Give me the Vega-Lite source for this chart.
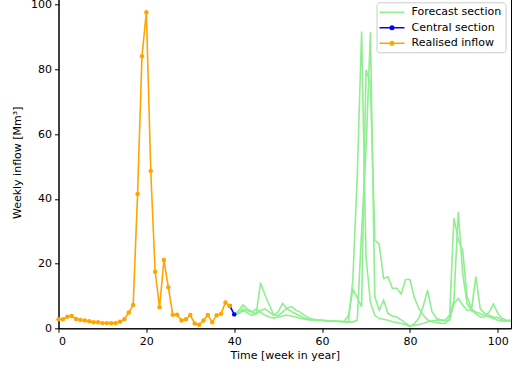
{
  "$schema": "https://vega.github.io/schema/vega-lite/v6.json",
  "autosize": {"type": "none"},
  "padding": {"left": 58.5, "top": -3.7, "right": 3, "bottom": 45.7},
  "width": 452.5,
  "height": 332,
  "datasets": {
    "inflow": [
      {"series": "Realised inflow", "scen": "R", "w": 0, "v": 2.8},
      {"series": "Realised inflow", "scen": "R", "w": 1, "v": 2.8},
      {"series": "Realised inflow", "scen": "R", "w": 2, "v": 3.6},
      {"series": "Realised inflow", "scen": "R", "w": 3, "v": 3.8},
      {"series": "Realised inflow", "scen": "R", "w": 4, "v": 2.9},
      {"series": "Realised inflow", "scen": "R", "w": 5, "v": 2.6},
      {"series": "Realised inflow", "scen": "R", "w": 6, "v": 2.4},
      {"series": "Realised inflow", "scen": "R", "w": 7, "v": 2.2},
      {"series": "Realised inflow", "scen": "R", "w": 8, "v": 1.9},
      {"series": "Realised inflow", "scen": "R", "w": 9, "v": 1.9},
      {"series": "Realised inflow", "scen": "R", "w": 10, "v": 1.6},
      {"series": "Realised inflow", "scen": "R", "w": 11, "v": 1.6},
      {"series": "Realised inflow", "scen": "R", "w": 12, "v": 1.6},
      {"series": "Realised inflow", "scen": "R", "w": 13, "v": 1.6},
      {"series": "Realised inflow", "scen": "R", "w": 14, "v": 2.0},
      {"series": "Realised inflow", "scen": "R", "w": 15, "v": 2.8},
      {"series": "Realised inflow", "scen": "R", "w": 16, "v": 4.9},
      {"series": "Realised inflow", "scen": "R", "w": 17, "v": 7.2},
      {"series": "Realised inflow", "scen": "R", "w": 18, "v": 41.5},
      {"series": "Realised inflow", "scen": "R", "w": 19, "v": 84.1},
      {"series": "Realised inflow", "scen": "R", "w": 20, "v": 97.7},
      {"series": "Realised inflow", "scen": "R", "w": 21, "v": 48.6},
      {"series": "Realised inflow", "scen": "R", "w": 22, "v": 17.5},
      {"series": "Realised inflow", "scen": "R", "w": 23, "v": 6.5},
      {"series": "Realised inflow", "scen": "R", "w": 24, "v": 21.1},
      {"series": "Realised inflow", "scen": "R", "w": 25, "v": 12.7},
      {"series": "Realised inflow", "scen": "R", "w": 26, "v": 4.2},
      {"series": "Realised inflow", "scen": "R", "w": 27, "v": 4.2},
      {"series": "Realised inflow", "scen": "R", "w": 28, "v": 2.4},
      {"series": "Realised inflow", "scen": "R", "w": 29, "v": 2.8},
      {"series": "Realised inflow", "scen": "R", "w": 30, "v": 4.1},
      {"series": "Realised inflow", "scen": "R", "w": 31, "v": 1.5},
      {"series": "Realised inflow", "scen": "R", "w": 32, "v": 1.1},
      {"series": "Realised inflow", "scen": "R", "w": 33, "v": 2.4},
      {"series": "Realised inflow", "scen": "R", "w": 34, "v": 4.1},
      {"series": "Realised inflow", "scen": "R", "w": 35, "v": 1.9},
      {"series": "Realised inflow", "scen": "R", "w": 36, "v": 4.0},
      {"series": "Realised inflow", "scen": "R", "w": 37, "v": 4.5},
      {"series": "Realised inflow", "scen": "R", "w": 38, "v": 8.0},
      {"series": "Realised inflow", "scen": "R", "w": 39, "v": 6.9},

      {"series": "Central section", "scen": "C0", "w": 39, "v": 6.9},
      {"series": "Central section", "scen": "C0", "w": 40, "v": 4.3},

      {"series": "Forecast section", "scen": "A", "w": 40, "v": 4.3},
      {"series": "Forecast section", "scen": "A", "w": 41, "v": 5.5},
      {"series": "Forecast section", "scen": "A", "w": 42, "v": 7.2},
      {"series": "Forecast section", "scen": "A", "w": 43, "v": 6.0},
      {"series": "Forecast section", "scen": "A", "w": 44, "v": 5.0},
      {"series": "Forecast section", "scen": "A", "w": 45, "v": 4.5},
      {"series": "Forecast section", "scen": "A", "w": 46, "v": 5.5},
      {"series": "Forecast section", "scen": "A", "w": 47, "v": 6.0},
      {"series": "Forecast section", "scen": "A", "w": 48, "v": 5.0},
      {"series": "Forecast section", "scen": "A", "w": 49, "v": 4.0},
      {"series": "Forecast section", "scen": "A", "w": 50, "v": 4.0},
      {"series": "Forecast section", "scen": "A", "w": 51, "v": 5.0},
      {"series": "Forecast section", "scen": "A", "w": 52, "v": 6.2},
      {"series": "Forecast section", "scen": "A", "w": 53, "v": 6.7},
      {"series": "Forecast section", "scen": "A", "w": 54, "v": 5.6},
      {"series": "Forecast section", "scen": "A", "w": 55, "v": 5.0},
      {"series": "Forecast section", "scen": "A", "w": 56, "v": 4.0},
      {"series": "Forecast section", "scen": "A", "w": 57, "v": 3.2},
      {"series": "Forecast section", "scen": "A", "w": 58, "v": 2.8},
      {"series": "Forecast section", "scen": "A", "w": 59, "v": 2.6},
      {"series": "Forecast section", "scen": "A", "w": 60, "v": 2.5},
      {"series": "Forecast section", "scen": "A", "w": 61, "v": 2.4},
      {"series": "Forecast section", "scen": "A", "w": 62, "v": 2.3},
      {"series": "Forecast section", "scen": "A", "w": 63, "v": 2.2},
      {"series": "Forecast section", "scen": "A", "w": 64, "v": 2.1},
      {"series": "Forecast section", "scen": "A", "w": 65, "v": 2.0},
      {"series": "Forecast section", "scen": "A", "w": 66, "v": 2.0},
      {"series": "Forecast section", "scen": "A", "w": 67, "v": 15.0},
      {"series": "Forecast section", "scen": "A", "w": 68, "v": 47.0},
      {"series": "Forecast section", "scen": "A", "w": 69, "v": 91.7},
      {"series": "Forecast section", "scen": "A", "w": 70, "v": 22.0},
      {"series": "Forecast section", "scen": "A", "w": 71, "v": 8.0},
      {"series": "Forecast section", "scen": "A", "w": 72, "v": 4.0},
      {"series": "Forecast section", "scen": "A", "w": 73, "v": 3.0},
      {"series": "Forecast section", "scen": "A", "w": 74, "v": 2.8},
      {"series": "Forecast section", "scen": "A", "w": 75, "v": 2.5},
      {"series": "Forecast section", "scen": "A", "w": 76, "v": 2.0},
      {"series": "Forecast section", "scen": "A", "w": 77, "v": 1.8},
      {"series": "Forecast section", "scen": "A", "w": 78, "v": 1.5},
      {"series": "Forecast section", "scen": "A", "w": 79, "v": 1.2},
      {"series": "Forecast section", "scen": "A", "w": 80, "v": 0.5},
      {"series": "Forecast section", "scen": "A", "w": 81, "v": 1.5},
      {"series": "Forecast section", "scen": "A", "w": 82, "v": 3.1},
      {"series": "Forecast section", "scen": "A", "w": 83, "v": 6.7},
      {"series": "Forecast section", "scen": "A", "w": 84, "v": 11.8},
      {"series": "Forecast section", "scen": "A", "w": 85, "v": 5.2},
      {"series": "Forecast section", "scen": "A", "w": 86, "v": 3.1},
      {"series": "Forecast section", "scen": "A", "w": 87, "v": 2.6},
      {"series": "Forecast section", "scen": "A", "w": 88, "v": 2.3},
      {"series": "Forecast section", "scen": "A", "w": 89, "v": 2.5},
      {"series": "Forecast section", "scen": "A", "w": 90, "v": 7.6},
      {"series": "Forecast section", "scen": "A", "w": 91, "v": 9.2},
      {"series": "Forecast section", "scen": "A", "w": 92, "v": 7.2},
      {"series": "Forecast section", "scen": "A", "w": 93, "v": 5.6},
      {"series": "Forecast section", "scen": "A", "w": 94, "v": 5.6},
      {"series": "Forecast section", "scen": "A", "w": 95, "v": 4.5},
      {"series": "Forecast section", "scen": "A", "w": 96, "v": 3.5},
      {"series": "Forecast section", "scen": "A", "w": 97, "v": 3.5},
      {"series": "Forecast section", "scen": "A", "w": 98, "v": 5.0},
      {"series": "Forecast section", "scen": "A", "w": 99, "v": 7.5},
      {"series": "Forecast section", "scen": "A", "w": 100, "v": 4.6},
      {"series": "Forecast section", "scen": "A", "w": 101, "v": 3.0},
      {"series": "Forecast section", "scen": "A", "w": 102, "v": 2.5},
      {"series": "Forecast section", "scen": "A", "w": 103, "v": 2.5},

      {"series": "Forecast section", "scen": "B", "w": 40, "v": 4.3},
      {"series": "Forecast section", "scen": "B", "w": 41, "v": 4.5},
      {"series": "Forecast section", "scen": "B", "w": 42, "v": 5.5},
      {"series": "Forecast section", "scen": "B", "w": 43, "v": 4.8},
      {"series": "Forecast section", "scen": "B", "w": 44, "v": 4.0},
      {"series": "Forecast section", "scen": "B", "w": 45, "v": 4.5},
      {"series": "Forecast section", "scen": "B", "w": 46, "v": 14.1},
      {"series": "Forecast section", "scen": "B", "w": 47, "v": 10.3},
      {"series": "Forecast section", "scen": "B", "w": 48, "v": 7.2},
      {"series": "Forecast section", "scen": "B", "w": 49, "v": 4.1},
      {"series": "Forecast section", "scen": "B", "w": 50, "v": 5.1},
      {"series": "Forecast section", "scen": "B", "w": 51, "v": 7.7},
      {"series": "Forecast section", "scen": "B", "w": 52, "v": 6.0},
      {"series": "Forecast section", "scen": "B", "w": 53, "v": 5.2},
      {"series": "Forecast section", "scen": "B", "w": 54, "v": 4.5},
      {"series": "Forecast section", "scen": "B", "w": 55, "v": 3.8},
      {"series": "Forecast section", "scen": "B", "w": 56, "v": 3.2},
      {"series": "Forecast section", "scen": "B", "w": 57, "v": 2.8},
      {"series": "Forecast section", "scen": "B", "w": 58, "v": 2.6},
      {"series": "Forecast section", "scen": "B", "w": 59, "v": 2.5},
      {"series": "Forecast section", "scen": "B", "w": 60, "v": 2.4},
      {"series": "Forecast section", "scen": "B", "w": 61, "v": 2.3},
      {"series": "Forecast section", "scen": "B", "w": 62, "v": 2.2},
      {"series": "Forecast section", "scen": "B", "w": 63, "v": 2.2},
      {"series": "Forecast section", "scen": "B", "w": 64, "v": 2.1},
      {"series": "Forecast section", "scen": "B", "w": 65, "v": 2.2},
      {"series": "Forecast section", "scen": "B", "w": 66, "v": 4.0},
      {"series": "Forecast section", "scen": "B", "w": 67, "v": 12.1},
      {"series": "Forecast section", "scen": "B", "w": 68, "v": 9.5},
      {"series": "Forecast section", "scen": "B", "w": 69, "v": 6.7},
      {"series": "Forecast section", "scen": "B", "w": 70, "v": 79.8},
      {"series": "Forecast section", "scen": "B", "w": 71, "v": 75.7},
      {"series": "Forecast section", "scen": "B", "w": 72, "v": 27.3},
      {"series": "Forecast section", "scen": "B", "w": 73, "v": 26.0},
      {"series": "Forecast section", "scen": "B", "w": 74, "v": 15.4},
      {"series": "Forecast section", "scen": "B", "w": 75, "v": 15.9},
      {"series": "Forecast section", "scen": "B", "w": 76, "v": 12.4},
      {"series": "Forecast section", "scen": "B", "w": 77, "v": 12.4},
      {"series": "Forecast section", "scen": "B", "w": 78, "v": 10.6},
      {"series": "Forecast section", "scen": "B", "w": 79, "v": 15.1},
      {"series": "Forecast section", "scen": "B", "w": 80, "v": 15.1},
      {"series": "Forecast section", "scen": "B", "w": 81, "v": 9.5},
      {"series": "Forecast section", "scen": "B", "w": 82, "v": 6.2},
      {"series": "Forecast section", "scen": "B", "w": 83, "v": 4.1},
      {"series": "Forecast section", "scen": "B", "w": 84, "v": 2.6},
      {"series": "Forecast section", "scen": "B", "w": 85, "v": 2.0},
      {"series": "Forecast section", "scen": "B", "w": 86, "v": 1.8},
      {"series": "Forecast section", "scen": "B", "w": 87, "v": 1.6},
      {"series": "Forecast section", "scen": "B", "w": 88, "v": 1.5},
      {"series": "Forecast section", "scen": "B", "w": 89, "v": 3.0},
      {"series": "Forecast section", "scen": "B", "w": 90, "v": 34.0},
      {"series": "Forecast section", "scen": "B", "w": 91, "v": 27.3},
      {"series": "Forecast section", "scen": "B", "w": 92, "v": 24.2},
      {"series": "Forecast section", "scen": "B", "w": 93, "v": 9.8},
      {"series": "Forecast section", "scen": "B", "w": 94, "v": 6.0},
      {"series": "Forecast section", "scen": "B", "w": 95, "v": 5.0},
      {"series": "Forecast section", "scen": "B", "w": 96, "v": 4.5},
      {"series": "Forecast section", "scen": "B", "w": 97, "v": 4.0},
      {"series": "Forecast section", "scen": "B", "w": 98, "v": 3.5},
      {"series": "Forecast section", "scen": "B", "w": 99, "v": 3.0},
      {"series": "Forecast section", "scen": "B", "w": 100, "v": 2.5},
      {"series": "Forecast section", "scen": "B", "w": 101, "v": 2.2},
      {"series": "Forecast section", "scen": "B", "w": 102, "v": 2.2},
      {"series": "Forecast section", "scen": "B", "w": 103, "v": 2.5},

      {"series": "Forecast section", "scen": "C", "w": 40, "v": 4.3},
      {"series": "Forecast section", "scen": "C", "w": 41, "v": 5.0},
      {"series": "Forecast section", "scen": "C", "w": 42, "v": 6.0},
      {"series": "Forecast section", "scen": "C", "w": 43, "v": 5.5},
      {"series": "Forecast section", "scen": "C", "w": 44, "v": 5.0},
      {"series": "Forecast section", "scen": "C", "w": 45, "v": 6.0},
      {"series": "Forecast section", "scen": "C", "w": 46, "v": 5.0},
      {"series": "Forecast section", "scen": "C", "w": 47, "v": 4.0},
      {"series": "Forecast section", "scen": "C", "w": 48, "v": 3.5},
      {"series": "Forecast section", "scen": "C", "w": 49, "v": 3.1},
      {"series": "Forecast section", "scen": "C", "w": 50, "v": 3.5},
      {"series": "Forecast section", "scen": "C", "w": 51, "v": 3.8},
      {"series": "Forecast section", "scen": "C", "w": 52, "v": 4.1},
      {"series": "Forecast section", "scen": "C", "w": 53, "v": 3.8},
      {"series": "Forecast section", "scen": "C", "w": 54, "v": 3.5},
      {"series": "Forecast section", "scen": "C", "w": 55, "v": 3.1},
      {"series": "Forecast section", "scen": "C", "w": 56, "v": 2.8},
      {"series": "Forecast section", "scen": "C", "w": 57, "v": 2.6},
      {"series": "Forecast section", "scen": "C", "w": 58, "v": 2.6},
      {"series": "Forecast section", "scen": "C", "w": 59, "v": 2.4},
      {"series": "Forecast section", "scen": "C", "w": 60, "v": 2.4},
      {"series": "Forecast section", "scen": "C", "w": 61, "v": 2.3},
      {"series": "Forecast section", "scen": "C", "w": 62, "v": 2.3},
      {"series": "Forecast section", "scen": "C", "w": 63, "v": 2.2},
      {"series": "Forecast section", "scen": "C", "w": 64, "v": 2.2},
      {"series": "Forecast section", "scen": "C", "w": 65, "v": 2.1},
      {"series": "Forecast section", "scen": "C", "w": 66, "v": 2.0},
      {"series": "Forecast section", "scen": "C", "w": 67, "v": 2.0},
      {"series": "Forecast section", "scen": "C", "w": 68, "v": 2.5},
      {"series": "Forecast section", "scen": "C", "w": 69, "v": 30.0},
      {"series": "Forecast section", "scen": "C", "w": 70, "v": 55.0},
      {"series": "Forecast section", "scen": "C", "w": 71, "v": 91.5},
      {"series": "Forecast section", "scen": "C", "w": 72, "v": 9.8},
      {"series": "Forecast section", "scen": "C", "w": 73, "v": 5.6},
      {"series": "Forecast section", "scen": "C", "w": 74, "v": 8.7},
      {"series": "Forecast section", "scen": "C", "w": 75, "v": 4.6},
      {"series": "Forecast section", "scen": "C", "w": 76, "v": 3.8},
      {"series": "Forecast section", "scen": "C", "w": 77, "v": 3.5},
      {"series": "Forecast section", "scen": "C", "w": 78, "v": 2.6},
      {"series": "Forecast section", "scen": "C", "w": 79, "v": 1.6},
      {"series": "Forecast section", "scen": "C", "w": 80, "v": 0.7},
      {"series": "Forecast section", "scen": "C", "w": 81, "v": 0.9},
      {"series": "Forecast section", "scen": "C", "w": 82, "v": 1.2},
      {"series": "Forecast section", "scen": "C", "w": 83, "v": 1.5},
      {"series": "Forecast section", "scen": "C", "w": 84, "v": 2.0},
      {"series": "Forecast section", "scen": "C", "w": 85, "v": 2.3},
      {"series": "Forecast section", "scen": "C", "w": 86, "v": 2.5},
      {"series": "Forecast section", "scen": "C", "w": 87, "v": 2.5},
      {"series": "Forecast section", "scen": "C", "w": 88, "v": 2.5},
      {"series": "Forecast section", "scen": "C", "w": 89, "v": 4.0},
      {"series": "Forecast section", "scen": "C", "w": 90, "v": 8.5},
      {"series": "Forecast section", "scen": "C", "w": 91, "v": 36.0},
      {"series": "Forecast section", "scen": "C", "w": 92, "v": 17.0},
      {"series": "Forecast section", "scen": "C", "w": 93, "v": 7.6},
      {"series": "Forecast section", "scen": "C", "w": 94, "v": 5.6},
      {"series": "Forecast section", "scen": "C", "w": 95, "v": 16.0},
      {"series": "Forecast section", "scen": "C", "w": 96, "v": 6.0},
      {"series": "Forecast section", "scen": "C", "w": 97, "v": 4.6},
      {"series": "Forecast section", "scen": "C", "w": 98, "v": 4.0},
      {"series": "Forecast section", "scen": "C", "w": 99, "v": 3.5},
      {"series": "Forecast section", "scen": "C", "w": 100, "v": 3.3},
      {"series": "Forecast section", "scen": "C", "w": 101, "v": 2.5},
      {"series": "Forecast section", "scen": "C", "w": 102, "v": 2.3},
      {"series": "Forecast section", "scen": "C", "w": 103, "v": 2.3}
    ]
  },
  "data": {"name": "inflow"},
  "encoding": {
    "x": {
      "field": "w",
      "type": "quantitative",
      "scale": {"domain": [0, 103], "nice": false, "zero": false},
      "axis": {"title": "Time [week in year]", "values": [0, 20, 40, 60, 80, 100], "titlePadding": 3}
    },
    "y": {
      "field": "v",
      "type": "quantitative",
      "scale": {"domain": [0, 102.6], "nice": false},
      "axis": {"title": "Weekly inflow [Mm³]", "values": [0, 20, 40, 60, 80, 100], "titlePadding": 8}
    },
    "color": {
      "field": "series",
      "type": "nominal",
      "scale": {
        "domain": ["Forecast section", "Central section", "Realised inflow"],
        "range": ["#90ee90", "#0000ff", "#ffa500"]
      },
      "legend": {
        "title": null,
        "encode": {
          "symbols": {
            "update": {
              "shape": {"signal": "datum.value === 'Forecast section' ? 'M-1.4,0H3.6' : 'M-1.4,0H3.6M1.45,0A0.35,0.35,0,1,1,0.75,0A0.35,0.35,0,1,1,1.45,0Z'"},
              "fill": {"scale": "color", "field": "value"}
            }
          }
        }
      }
    }
  },
  "layer": [
    {
      "transform": [{"filter": "datum.series === 'Forecast section'"}],
      "mark": {"type": "line", "strokeWidth": 1.6},
      "encoding": {"detail": {"field": "scen"}}
    },
    {
      "transform": [{"filter": "datum.series === 'Central section'"}],
      "mark": {"type": "line", "strokeWidth": 1.6, "point": {"filled": true, "size": 20}}
    },
    {
      "transform": [{"filter": "datum.series === 'Realised inflow'"}],
      "mark": {"type": "line", "strokeWidth": 1.6, "point": {"filled": true, "size": 20}}
    }
  ],
  "config": {
    "font": "DejaVu Sans",
    "view": {"stroke": "black", "strokeWidth": 1},
    "axis": {
      "grid": false,
      "domainColor": "black",
      "tickColor": "black",
      "labelColor": "black",
      "titleColor": "black",
      "labelFontSize": 11,
      "titleFontSize": 11,
      "titleFontWeight": "normal",
      "tickSize": 4,
      "labelPadding": 3
    },
    "legend": {
      "orient": "top-right",
      "offset": 6,
      "padding": 4,
      "rowPadding": 4.5,
      "strokeColor": "#cccccc",
      "fillColor": "rgba(255,255,255,0.8)",
      "cornerRadius": 3,
      "labelFontSize": 11,
      "labelColor": "black",
      "symbolSize": 100,
      "symbolStrokeWidth": 1.5,
      "labelOffset": 19
    }
  }
}
